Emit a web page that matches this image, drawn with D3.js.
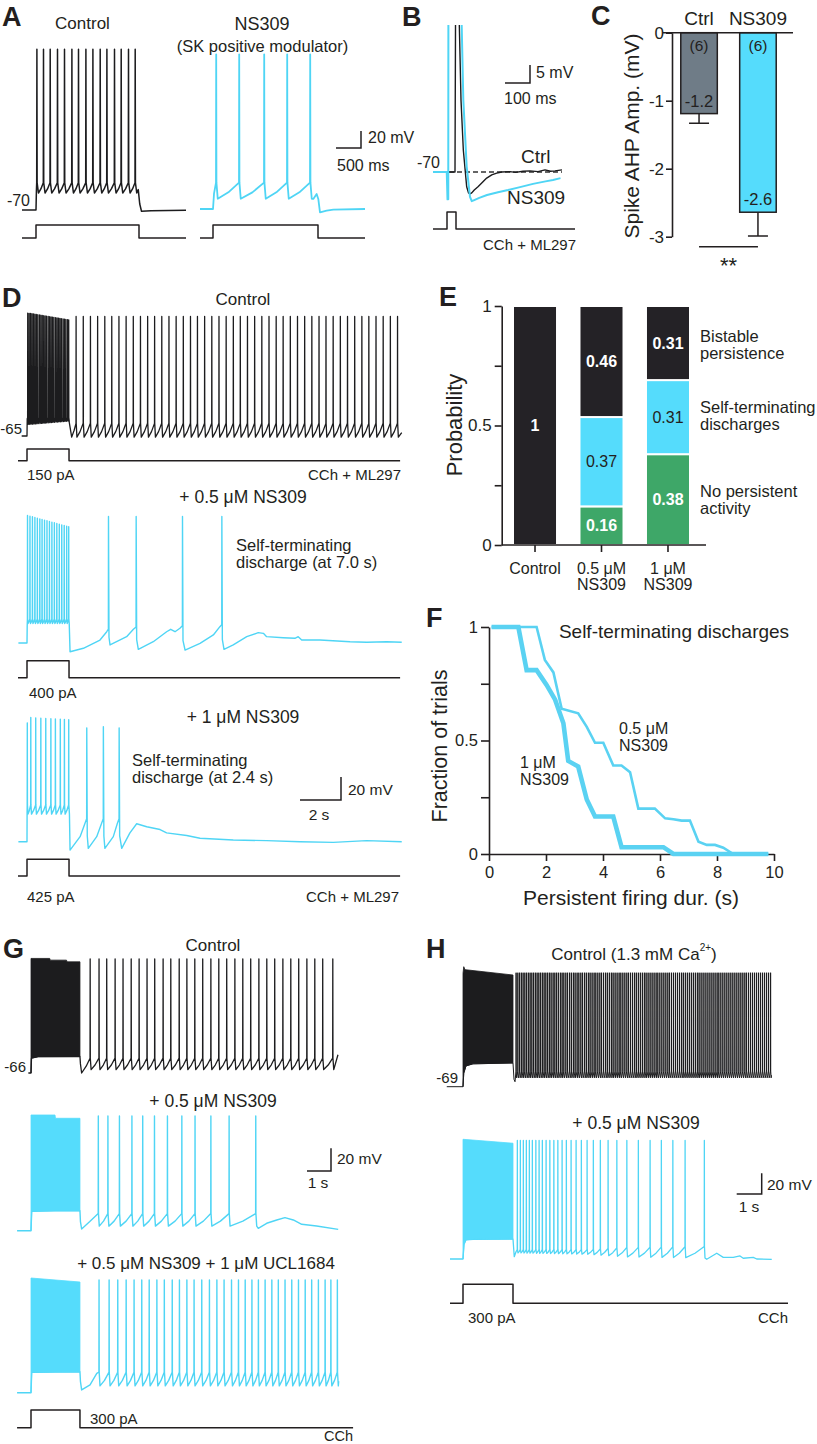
<!DOCTYPE html>
<html><head><meta charset="utf-8">
<script src="https://cdn.jsdelivr.net/npm/d3@7/dist/d3.min.js"></script>
<style>
body{margin:0;background:#fff}
svg text{font-family:"Liberation Sans",Arial,Helvetica,sans-serif;fill:#231f20}
</style></head>
<body><svg id="fig" width="817" height="1444" xmlns="http://www.w3.org/2000/svg"></svg>
<script>
// ======================= DATA =======================
// Panel A  (time in s from step onset, membrane potential in mV)
const aCtrlPre = [[-0.28,-70],[0,-70],[0.008,-48]];
const aCtrlSpikes = [0.014,0.146,0.28,0.426,0.566,0.714,0.846,0.994,1.134,1.28,1.414,1.566,1.7,1.846,1.98];
const aCtrlLevels = [119,-38,-50];            // peak, threshold, AHP trough
const aCtrlPost = [[2.045,-46],[2.075,-63],[2.11,-71.5],[2.3,-70.8],[3.0,-70.3]];
const aNsPre = [[-0.26,-70],[0,-70],[0.02,-52]];
const aNsSpikes = [0.06,0.52,1.02,1.48,1.94];
const aNsLevels = [112,-39,-58];
const aNsPost = [[2.006,-58.2],[2.073,-52.4],[2.106,-58.2],[2.14,-73.9],[2.273,-72],[2.406,-70.8],[3.04,-70]];
const aCtrlStim = [[-0.28,0],[0,0],[0,1],[2.06,1],[2.06,0],[3.0,0]];
const aNsStim = [[-0.26,0],[0,0],[0,1],[2.1,1],[2.1,0],[3.04,0]];

// Panel B  (time in ms, mV)
const bNs = [[0,-70],[55,-70],[58,-77.6],[61,-77.6],[62,10],[100,10],[114.7,-29.2],[121.3,-50],[134.7,-68.5],[148,-76.9],[155,-78.1],[165,-77.8],[185,-77.2],[216,-76.4],[260,-75.6],[300,-75],[348,-74.2],[400,-73.3],[450,-72.6],[480,-72.2],[510,-71.7]];
const bCtrl = [[0,-70],[88,-70],[92,10],[100,10],[105.3,-29.2],[112,-50],[121.3,-63.9],[134.7,-74.1],[142,-75.8],[148,-76.1],[155,-75.8],[165,-75],[180,-74.1],[197,-72.9],[214.7,-71.7],[235,-70.8],[254.7,-70.3],[275,-70],[308,-69.9],[330,-70.1],[360,-69.8],[388,-69.7],[420,-69.9],[448,-69.4],[470,-69.8],[488,-69.7],[516,-69.4]];
const bRest = [[0,-70],[516,-70]];
const bStim = [[0,0],[56,0],[56,1],[92,1],[92,0],[568,0]];

// Panel C
const cCats = ["Ctrl","NS309"];
const cMeans = [-1.19,-2.64];
const cSems = [0.14,0.35];
const cN = [6,6];

// Panel D  (s, mV)
const dCtrlPre = [[-0.26,-65],[0,-65],[0.01,-50]];
const dCtrlBurst = [0.03,0.1,0.17,0.24,0.31,0.38,0.45,0.52,0.6,0.67,0.74,0.81,0.88,0.95,1.03,1.1,1.17,1.24,1.31,1.39,1.46,1.53,1.6,1.67,1.75,1.82,1.89,1.97,2.03];
const dCtrlBurstLevels = [[[0,42],[2.05,36]], -49, [[0,-55],[2.05,-52]]];
const dCtrlMid = [[2.06,-53],[2.18,-66],[2.3,-60]];
const dCtrlSpikes = [2.39,2.74,3.09,3.44,3.79,4.13,4.48,4.83,5.18,5.53,5.88,6.22,6.57,6.92,7.27,7.62,7.97,8.31,8.66,9.01,9.36,9.71,10.06,10.40,10.75,11.10,11.45,11.80,12.15,12.49,12.84,13.19,13.54,13.89,14.24,14.58,14.93,15.28,15.63,15.98,16.33,16.67,17.02,17.37,17.72,18.07];
const dCtrlLevels = [39,-54,-66];
const dCtrlPost = [[18.28,-62]];
const dHalfPre = [[-0.42,-65],[0,-65],[0.01,-50]];
const dHalfBurst = [0.02,0.14,0.26,0.38,0.50,0.62,0.73,0.85,0.97,1.09,1.21,1.33,1.45,1.57,1.69,1.81,1.93,2.03];
const dHalfBurstLevels = [[[0,46],[2.05,36]], -44, -48];
const dHalfPost = [[2.1,-72.6],[2.75,-69.6],[3.56,-62.4],[3.89,-55.2],[3.97,-53],[3.975,45],[4.0,-60],[4.05,-66.7],[4.86,-59.5],[5.19,-53.1],[5.32,-51],[5.325,45],[5.35,-62],[5.43,-70.5],[6.16,-63.9],[6.81,-55.2],[7.01,-53.1],[7.22,-55.2],[7.46,-52.2],[7.58,-50],[7.585,45],[7.61,-63],[7.71,-71.1],[8.44,-65.3],[9.09,-58],[9.41,-50.8],[9.5,-49],[9.505,45],[9.53,-62],[9.61,-70.5],[10.06,-66.7],[10.72,-59.5],[11.28,-56],[11.53,-56.6],[11.69,-59.5],[12.5,-60.4],[13.07,-60.9],[13.23,-59.5],[13.4,-62.4],[14.29,-62.4],[15.76,-63.9],[16.57,-64.4],[17.55,-63.9],[18.28,-64.4]];
const dOnePre = [[-0.42,-65],[0,-65],[0.005,-40]];
const dOneBurst = [0.01,0.18,0.42,0.67,0.91,1.16,1.38,1.62,1.82,2.03];
const dOneBurstLevels = [[[0,38],[0.15,43],[2.05,41]], -33, -41];
const dOnePost = [[2.1,-72.3],[2.59,-60.6],[2.83,-49],[2.91,-45],[2.915,34],[2.94,-60],[2.99,-70.8],[3.4,-60.6],[3.64,-49],[3.72,-45],[3.725,35],[3.75,-60],[3.8,-70.8],[4.21,-60.6],[4.41,-49],[4.49,-45],[4.495,34],[4.52,-60],[4.62,-70.8],[5.02,-57.3],[5.35,-49.4],[5.84,-52],[6.49,-54.4],[6.81,-57.3],[7.79,-59.6],[8.44,-62],[10.06,-63.5],[11.69,-64.1],[13.32,-65],[14.94,-65.6],[16.57,-64.1],[18.28,-65]];
const dStim = [[-0.44,0],[0,0],[0,1],[2.05,1],[2.05,0],[18.2,0]];

// Panel E
const eCats = ["Control","0.5 μM NS309","1 μM NS309"];
const eNone = [0,0.16,0.38];
const eSelf = [0,0.37,0.31];
const eBist = [1,0.46,0.31];

// Panel F  (duration s, fraction of trials)
const fHalf = [[0.09,1],[1.67,1],[1.96,0.855],[2.26,0.80],[2.55,0.64],[3.13,0.62],[3.43,0.56],[3.72,0.49],[4.01,0.49],[4.36,0.39],[4.65,0.39],[4.95,0.36],[5.24,0.2],[5.82,0.2],[6.18,0.157],[6.47,0.153],[6.76,0.147],[7.05,0.147],[7.35,0.054],[7.64,0.04],[7.93,0.04],[8.22,0.028],[8.57,0],[9.8,0]];
const fOne = [[0.09,1],[1.03,1],[1.32,0.81],[1.67,0.81],[2.02,0.745],[2.32,0.68],[2.61,0.576],[2.78,0.41],[3.13,0.385],[3.43,0.24],[3.72,0.165],[4.36,0.165],[4.65,0.03],[6.12,0.03],[6.47,0],[9.8,0]];

// Panel G  (s, mV)
const gCtrlPre = [[-0.11,-66],[0,-66]];
const gCtrlBurstTop = [[0,34.5],[0.78,34.5],[0.8,33],[1.48,33],[1.5,31.5],[2.04,31.5]];
const gCtrlBurstBottom = [[0,-66],[0.02,-53],[0.3,-51.7],[2.04,-51.5]];
const gCtrlMid = [[2.06,-58],[2.11,-66],[2.3,-60]];
const gCtrlSpikes = [2.46,2.83,3.15,3.5,3.83,4.17,4.5,4.83,5.15,5.5,5.82,6.17,6.49,6.82,7.15,7.49,7.82,8.15,8.49,8.82,9.15,9.49,9.82,10.15,10.49,10.82,11.15,11.49,11.82,12.15,12.57];
const gCtrlLevels = [34,-53,-63];
const gCtrlPost = [[12.79,-50]];
const gHalfPre = [[-0.58,-66],[0,-66]];
const gHalfBurstTop = [[0,35.5],[1.0,35.5],[1.02,32.6],[2.04,32.6]];
const gHalfBurstBottom = [[0,-66],[0.03,-49],[1,-48.5],[2.04,-48.5]];
const gHalfMid = [[2.06,-58],[2.11,-64.5],[2.45,-58]];
const gHalfSpikes = [2.8,3.2,3.68,4.2,4.65,5.14,5.68,6.28,6.83,7.49,8.25,9.36];
const gHalfLevels = [34.6,-51,-62];
const gHalfPost = [[9.47,-63.9],[9.82,-59.5],[10.24,-56.6],[10.58,-54.5],[10.93,-56.6],[11.28,-60.4],[11.9,-61.9],[12.8,-64.8]];
const gUclPre = [[-0.58,-66],[0,-66]];
const gUclBurstTop = [[0,34.6],[2.04,31.1]];
const gUclBurstBottom = [[0,-66],[0.03,-48],[2.04,-47.6]];
const gUclMid = [[2.06,-56],[2.11,-63.6],[2.46,-59.2],[2.74,-49]];
const gUclSpikes = [2.83,3.25,3.61,3.96,4.29,4.61,4.92,5.24,5.55,5.88,6.18,6.49,6.79,7.11,7.43,7.74,8.04,8.35,8.64,8.92,9.2,9.47,9.75,10.03,10.3,10.58,10.86,11.14,11.42,11.69,11.97,12.25,12.49,12.76];
const gUclLevels = [32.9,-48,-60];
const gUclPost = [[12.82,-56]];
const gStim = [[-0.58,0],[0,0],[0,1],[2.04,1],[2.04,0],[13.42,0]];

// Panel H  (s, mV)
const hCtrlPre = [[-0.65,-69],[0,-69]];
const hCtrlBurstTop = [[0,40],[0.03,46.4],[0.08,43.5],[0.2,43.2],[2.0,38.4]];
const hCtrlBurstBottom = [[0,-69],[0.03,-56],[0.12,-49],[0.4,-47],[2.0,-46.2]];
const hCtrlMid = [[2.04,-62],[2.08,-64.2]];
const hCtrlSpikes = [2.12,2.19,2.26,2.33,2.40,2.47,2.54,2.61,2.68,2.75,2.82,2.89,2.96,3.03,3.10,3.17,3.24,3.31,3.38,3.45,3.52,3.60,3.67,3.74,3.81,3.89,3.96,4.03,4.11,4.18,4.26,4.33,4.41,4.48,4.56,4.63,4.71,4.78,4.86,4.93,5.01,5.08,5.16,5.24,5.31,5.39,5.47,5.54,5.62,5.70,5.77,5.85,5.93,6.00,6.08,6.16,6.24,6.31,6.39,6.47,6.55,6.62,6.70,6.78,6.86,6.93,7.01,7.09,7.17,7.25,7.32,7.40,7.48,7.56,7.64,7.72,7.79,7.87,7.95,8.03,8.11,8.19,8.26,8.34,8.42,8.50,8.58,8.66,8.74,8.81,8.89,8.97,9.05,9.13,9.21,9.29,9.37,9.44,9.52,9.60,9.68,9.76,9.84,9.92,10.00,10.08,10.16,10.23,10.31,10.39,10.47,10.55,10.63,10.71,10.79,10.87,10.95,11.03,11.11,11.19,11.27,11.34,11.42,11.50,11.58,11.66,11.74,11.82,11.90,11.98,12.06,12.14,12.22,12.30];
const hCtrlLevels = [40.6,-54,-60.5];
const hCtrlPost = [[12.34,-58]];
const hHalfPre = [[-0.52,-69],[0,-69]];
const hHalfBurstTop = [[0,46.1],[2.0,42.3]];
const hHalfBurstBottom = [[0,-69],[0.04,-55],[0.12,-50.5],[0.4,-50],[2.0,-49.8]];
const hHalfMid = [[2.05,-66.8],[2.12,-62]];
const hHalfSpikes = [2.17,2.29,2.41,2.53,2.65,2.77,2.91,3.04,3.17,3.32,3.47,3.63,3.79,3.96,4.13,4.32,4.52,4.73,4.96,5.21,5.49,5.8,6.15,6.55,7.01,7.48,7.93,8.39,8.88,9.65];
const hHalfLevels = [45, [[2,-60],[5,-60],[6.5,-58],[9.7,-57]], [[2,-63],[5,-64.5],[6.5,-67],[9.7,-68]]];
const hHalfPost = [[9.75,-69.3],[10.15,-63.5],[10.41,-67.4],[10.81,-67.4],[11.08,-66.1],[11.21,-68.3],[11.61,-67.4],[11.75,-69],[12.35,-69.3]];
const hStim = [[-0.52,0],[0,0],[0,1],[2.0,1],[2.0,0],[13.0,0]];

// ======================= DRAWING =======================
const INK = '#231f20', KTR = '#1c1c1e', CY = '#4fd5f5', CYF = '#55dcfc', GRAYF = '#6f7c87', GREEN = '#3ea768', BLK = '#242226';
const svg = d3.select('#fig');
const lin = (d, r) => d3.scaleLinear().domain(d).range(r);
function ev(e, t){ if (typeof e === 'number') return e; return lin(e.map(d=>d[0]), e.map(d=>d[1])).clamp(true)(t); }
function train(sp, lv, rise, fall){
  const [pk, th, tr] = lv, pts = [];
  sp.forEach((t, i) => {
    const a = ev(th,t), p = ev(pk,t), b = ev(tr,t);
    pts.push([t,a],[t+rise,p],[t+rise*2.2,a],[t+fall,b]);
    if (i < sp.length-1){ const n = sp[i+1]; pts.push([t+fall+(n-t-fall)*0.5, b+(ev(th,n)-b)*0.4]); }
  });
  return pts;
}
function trace(g, pts, xs, ys, color, w){
  return g.append('path').attr('d', d3.line().x(d=>xs(d[0])).y(d=>ys(d[1]))(pts))
    .attr('fill','none').attr('stroke',color).attr('stroke-width',w).attr('stroke-linejoin','round');
}
function block(g, top, bottom, xs, ys, color){
  const pts = top.concat(bottom.slice().reverse());
  g.append('path').attr('d', d3.line().x(d=>xs(d[0])).y(d=>ys(d[1]))(pts)+'Z')
    .attr('fill',color).attr('stroke',color).attr('stroke-width',0.8);
}
function T(x, y, s, size, anchor, o){
  o = o || {};
  const t = svg.append('text').attr('x',x).attr('y',y).attr('font-size',size)
    .attr('text-anchor',anchor||'start').attr('dominant-baseline','central').text(s);
  if (o.bold) t.attr('font-weight','bold');
  if (o.fill) t.style('fill', o.fill);
  if (o.rot) t.attr('transform', `rotate(-90,${x},${y})`);
  return t;
}
function letter(x, y, s){ svg.append('text').attr('x',x).attr('y',y).attr('font-size',27).attr('font-weight','bold').text(s); }
function scaleBar(x, y, w, h){
  svg.append('path').attr('d',`M${x-w},${y}H${x}V${y-h}`).attr('fill','none').attr('stroke',INK).attr('stroke-width',1.5);
}
const fmt1 = v => d3.format('.1f')(v).replace('\u2212','-');

// ---------- Panel A ----------
letter(2,26,'A');
const gA = svg.append('g');
const xA1 = lin([0,1],[36,86]), xA2 = lin([0,1],[213,263]);
const yA1 = lin([-70,-50],[210,193]), yA2 = lin([-70,-50],[209,192]);
const sA = lin([0,1],[238,225]);
trace(gA, [...aCtrlPre, ...train(aCtrlSpikes, aCtrlLevels, 0.004, 0.035), ...aCtrlPost], xA1, yA1, KTR, 1.5);
trace(gA, [...aNsPre, ...train(aNsSpikes, aNsLevels, 0.004, 0.035), ...aNsPost], xA2, yA2, CY, 1.8);
trace(gA, aCtrlStim, xA1, sA, INK, 1.5);
trace(gA, aNsStim, xA2, sA, INK, 1.5);
scaleBar(361, 148, xA1(0.5)-xA1(0), yA1(-70)-yA1(-50));
T(82.5,23.5,'Control',17,'middle');
T(262,23.5,'NS309',18,'middle');
T(262.5,46,'(SK positive modulator)',16.5,'middle');
T(30,200,'-70',16,'end');
T(368,137,'20 mV',16);
T(337,165,'500 ms',16);

// ---------- Panel B ----------
letter(402,26,'B');
const defs = svg.append('defs');
defs.append('clipPath').attr('id','clipB').append('rect').attr('x',425).attr('y',25).attr('width',160).attr('height',200);
const gB = svg.append('g').attr('clip-path','url(#clipB)');
const xB = lin([0,100],[433,458]), yB = lin([-70,-65],[172,154]), sB = lin([0,1],[229,212]);
trace(gB, bRest, xB, yB, '#333', 1.3).attr('stroke-dasharray','5,3');
trace(gB, bCtrl, xB, yB, KTR, 1.4);
trace(gB, bNs, xB, yB, CY, 2);
trace(svg, bStim, xB, sB, INK, 1.5);
scaleBar(530, 83, xB(100)-xB(0), yB(-70)-yB(-65));
T(536,72,'5 mV',16);
T(504,98,'100 ms',16);
T(440,162,'-70',16,'end');
T(521,156,'Ctrl',19);
T(507,197,'NS309',19);
T(576,244,'CCh + ML297',15,'end');

// ---------- Panel C ----------
letter(591,25,'C');
const yC = lin([0,-3],[32.7,236.7]);
const xC = d3.scaleBand().domain(cCats).range([669,788]).paddingInner(0.38).paddingOuter(0.2);
const gC = svg.append('g');
cCats.forEach((c,i) => {
  const x0 = xC(c), bw = xC.bandwidth(), cx = x0 + bw/2;
  gC.append('rect').attr('x',x0).attr('y',yC(0)).attr('width',bw).attr('height',yC(cMeans[i])-yC(0))
    .attr('fill', i===0 ? GRAYF : CYF).attr('stroke',INK).attr('stroke-width',1.5);
  const ye = yC(cMeans[i]-cSems[i]);
  gC.append('path').attr('d',`M${cx},${yC(cMeans[i])}V${ye}M${cx-10},${ye}H${cx+10}`).attr('stroke',INK).attr('stroke-width',1.5).attr('fill','none');
  T(cx, yC(0)+12.5, `(${cN[i]})`, 15.5, 'middle');
  T(cx, yC(cMeans[i])-13, fmt1(cMeans[i]), 16.5, 'middle');
  T(cx, 18.5, c, 19, 'middle');
});
const axC = svg.append('g').attr('transform','translate(672,0)').style('color',INK)
  .call(d3.axisLeft(yC).tickValues([0,-1,-2,-3]).tickSize(6).tickSizeOuter(0).tickPadding(2).tickFormat(d=>String(d)));
axC.selectAll('path,line').attr('stroke-width',1.6);
axC.selectAll('text').attr('font-size',17);
svg.append('path').attr('d',`M663,${yC(0)}H793`).attr('stroke',INK).attr('stroke-width',1.6);
const cx1 = xC('Ctrl')+xC.bandwidth()/2, cx2 = xC('NS309')+xC.bandwidth()/2;
svg.append('path').attr('d',`M${cx1},246.7H${cx2}`).attr('stroke',INK).attr('stroke-width',1.5);
svg.append('text').attr('x',(cx1+cx2)/2).attr('y',273).attr('font-size',22).attr('text-anchor','middle').text('**');
T(631,136,'Spike AHP Amp. (mV)',21,'middle',{rot:true});

// ---------- Panel D ----------
letter(2,307,'D');
const gD = svg.append('g');
const xD = lin([0,2],[27,68]);
const yD1 = lin([-65,-45],[436,413]), yD2 = lin([-65,-45],[643,620]), yD3 = lin([-65,-45],[841.7,818.7]);
const sD1 = lin([0,1],[460.7,449]), sD2 = lin([0,1],[677.7,660.7]), sD3 = lin([0,1],[876,859.3]);
trace(gD, [...dCtrlPre, ...train(dCtrlBurst, dCtrlBurstLevels, 0.005, 0.03), ...dCtrlMid, ...train(dCtrlSpikes, dCtrlLevels, 0.005, 0.045), ...dCtrlPost], xD, yD1, KTR, 1.3);
trace(gD, [...dHalfPre, ...train(dHalfBurst, dHalfBurstLevels, 0.005, 0.03), ...dHalfPost], xD, yD2, CY, 1.4);
trace(gD, [...dOnePre, ...train(dOneBurst, dOneBurstLevels, 0.005, 0.04), ...dOnePost], xD, yD3, CY, 1.4);
trace(gD, dStim, xD, sD1, INK, 1.5);
trace(gD, dStim, xD, sD2, INK, 1.5);
trace(gD, dStim, xD, sD3, INK, 1.5);
scaleBar(341, 800, xD(2)-xD(0), yD1(-65)-yD1(-45));
T(243,299,'Control',17,'middle');
T(22,428,'-65',15,'end');
T(27,474,'150 pA',15);
T(401,474,'CCh + ML297',15,'end');
T(243,497,'+ 0.5 μM NS309',17.5,'middle');
T(236,545,'Self-terminating',16.5);
T(236,561.5,'discharge (at 7.0 s)',16.5);
T(29,692,'400 pA',15);
T(243,717,'+ 1 μM NS309',17.5,'middle');
T(132,760,'Self-terminating',16.5);
T(132,777,'discharge (at 2.4 s)',16.5);
T(348,789,'20 mV',15.5);
T(319,814,'2 s',15.5,'middle');
T(27,896,'425 pA',15);
T(399,896,'CCh + ML297',15,'end');

// ---------- Panel E ----------
letter(439,306,'E');
const yE = lin([0,1],[545,306]);
const xE = d3.scaleBand().domain(eCats).range([501.7,701.3]).paddingInner(0.338).paddingOuter(0.17);
const eRows = eCats.map((c,i)=>({cat:c, none:eNone[i], self:eSelf[i], bist:eBist[i]}));
const eStack = d3.stack().keys(['none','self','bist']).offset(d3.stackOffsetExpand)(eRows);
const eCol = {none:GREEN, self:CYF, bist:BLK};
const gE = svg.append('g');
eStack.forEach(layer => {
  layer.forEach((seg, i) => {
    const v = eRows[i][layer.key];
    if (v <= 0) return;
    const x0 = xE(eCats[i]), bw = xE.bandwidth();
    gE.append('rect').attr('x',x0).attr('y',yE(seg[1])).attr('width',bw).attr('height',yE(seg[0])-yE(seg[1]))
      .attr('fill',eCol[layer.key]).attr('stroke','#fff').attr('stroke-width',2);
    const light = layer.key !== 'self';
    T(x0+bw/2, (yE(seg[0])+yE(seg[1]))/2, String(v), 16, 'middle', light ? {bold:true, fill:'#fff'} : {});
  });
});
const axE = svg.append('g').attr('transform','translate(501.7,0)').style('color',INK)
  .call(d3.axisLeft(yE).tickValues([0,0.25,0.5,0.75,1]).tickSize(7).tickSizeOuter(0).tickPadding(3).tickFormat(d => [0,0.5,1].includes(d) ? String(d) : ''));
axE.selectAll('path,line').attr('stroke-width',1.6);
axE.selectAll('text').attr('font-size',17);
const axEx = svg.append('g').attr('transform','translate(0,545)').style('color',INK)
  .call(d3.axisBottom(xE).tickSize(7).tickSizeOuter(0));
axEx.select('.domain').remove(); axEx.selectAll('text').remove();
axEx.selectAll('line').attr('stroke-width',1.6);
svg.append('path').attr('d','M501.7,545H706').attr('stroke',INK).attr('stroke-width',1.6);
eCats.forEach(c => {
  const cx = xE(c)+xE.bandwidth()/2;
  const parts = c === 'Control' ? ['Control'] : [c.replace(' NS309',''), 'NS309'];
  parts.forEach((p,j) => T(cx, 568+16*j, p, 16, 'middle'));
});
T(454,425,'Probability',22,'middle',{rot:true});
T(700,336,'Bistable',16.5); T(700,353,'persistence',16.5);
T(700,407,'Self-terminating',16.5); T(700,424,'discharges',16.5);
T(700,491,'No persistent',16.5); T(700,508,'activity',16.5);

// ---------- Panel F ----------
letter(426,627,'F');
const xF = lin([0,10],[489,774]), yF = lin([0,1],[854,627]);
const axFy = svg.append('g').attr('transform','translate(489,0)').style('color',INK)
  .call(d3.axisLeft(yF).tickValues([0,0.25,0.5,0.75,1]).tickSize(8).tickSizeOuter(0).tickPadding(3).tickFormat(d => [0,0.5,1].includes(d) ? String(d) : ''));
const axFx = svg.append('g').attr('transform','translate(0,854)').style('color',INK)
  .call(d3.axisBottom(xF).tickValues([0,2,4,6,8,10]).tickSize(7).tickSizeOuter(0).tickPadding(5).tickFormat(d=>String(d)));
[axFy, axFx].forEach(a => { a.selectAll('path,line').attr('stroke-width',1.6); a.selectAll('text').attr('font-size',16.5); });
const gF = svg.append('g');
trace(gF, fHalf, xF, yF, '#5ad2f2', 2.6).attr('stroke-linejoin','miter');
trace(gF, fOne, xF, yF, '#5ad2f2', 4.6).attr('stroke-linejoin','miter');
T(674,631.5,'Self-terminating discharges',19,'middle');
T(619,728,'0.5 μM',16); T(619,745,'NS309',16);
T(520,762,'1 μM',16); T(520,779,'NS309',16);
T(631,897,'Persistent firing dur. (s)',21,'middle');
T(440,746,'Fraction of trials',21.5,'middle',{rot:true});

// ---------- Panel G ----------
letter(3,958,'G');
const gG = svg.append('g');
const xG = lin([0,1],[31,55]);
const yG1 = lin([-66,-46],[1073,1050.2]), yG2 = lin([-66,-46],[1230.7,1207.9]), yG3 = lin([-66,-46],[1392.7,1369.9]);
const sG = lin([0,1],[1427.7,1410]);
trace(gG, [...gCtrlPre, ...gCtrlBurstBottom, ...gCtrlMid, ...train(gCtrlSpikes, gCtrlLevels, 0.005, 0.045), ...gCtrlPost], xG, yG1, KTR, 1.3);
block(gG, gCtrlBurstTop, gCtrlBurstBottom, xG, yG1, KTR);
trace(gG, [...gHalfPre, ...gHalfBurstBottom, ...gHalfMid, ...train(gHalfSpikes, gHalfLevels, 0.005, 0.045), ...gHalfPost], xG, yG2, CY, 1.4);
block(gG, gHalfBurstTop, gHalfBurstBottom, xG, yG2, CYF);
trace(gG, [...gUclPre, ...gUclBurstBottom, ...gUclMid, ...train(gUclSpikes, gUclLevels, 0.005, 0.045), ...gUclPost], xG, yG3, CY, 1.4);
block(gG, gUclBurstTop, gUclBurstBottom, xG, yG3, CYF);
trace(gG, gStim, xG, sG, INK, 1.5);
scaleBar(331, 1171, xG(1)-xG(0), yG1(-66)-yG1(-46));
T(213,945,'Control',17,'middle');
T(26,1066,'-66',15,'end');
T(213,1101,'+ 0.5 μM NS309',17.5,'middle');
T(337,1158,'20 mV',15.5);
T(318,1182,'1 s',15.5,'middle');
T(206,1263,'+ 0.5 μM NS309 + 1 μM UCL1684',17,'middle');
T(90,1418,'300 pA',15);
T(353,1435.5,'CCh',14.5,'end');

// ---------- Panel H ----------
letter(426,958,'H');
const gH = svg.append('g');
const xH = lin([0,1],[463,488]);
const yH1 = lin([-69,-49],[1086.7,1065.9]), yH2 = lin([-69,-49],[1259,1238.2]);
const sH = lin([0,1],[1303.3,1284.3]);
trace(gH, [...hCtrlPre, ...hCtrlBurstBottom, ...hCtrlMid, ...train(hCtrlSpikes, hCtrlLevels, 0.004, 0.025), ...hCtrlPost], xH, yH1, KTR, 1.0);
block(gH, hCtrlBurstTop, hCtrlBurstBottom, xH, yH1, KTR);
trace(gH, [...hHalfPre, ...hHalfBurstBottom, ...hHalfMid, ...train(hHalfSpikes, hHalfLevels, 0.004, 0.03), ...hHalfPost], xH, yH2, CY, 1.3);
block(gH, hHalfBurstTop, hHalfBurstBottom, xH, yH2, CYF);
trace(gH, hStim, xH, sH, INK, 1.5);
scaleBar(761.7, 1194, xH(1)-xH(0), yH1(-69)-yH1(-49));
const tCa = T(634,954,'Control (1.3 mM Ca',17,'middle');
tCa.append('tspan').attr('font-size',10).attr('dy',-7).text('2+');
tCa.append('tspan').attr('dy',7).text(')');
T(458,1077,'-69',15,'end');
T(636,1123,'+ 0.5 μM NS309',17.5,'middle');
T(767,1184,'20 mV',15.5);
T(749,1206,'1 s',15.5,'middle');
T(468,1317,'300 pA',15);
T(788,1317,'CCh',15,'end');
</script></body></html>
